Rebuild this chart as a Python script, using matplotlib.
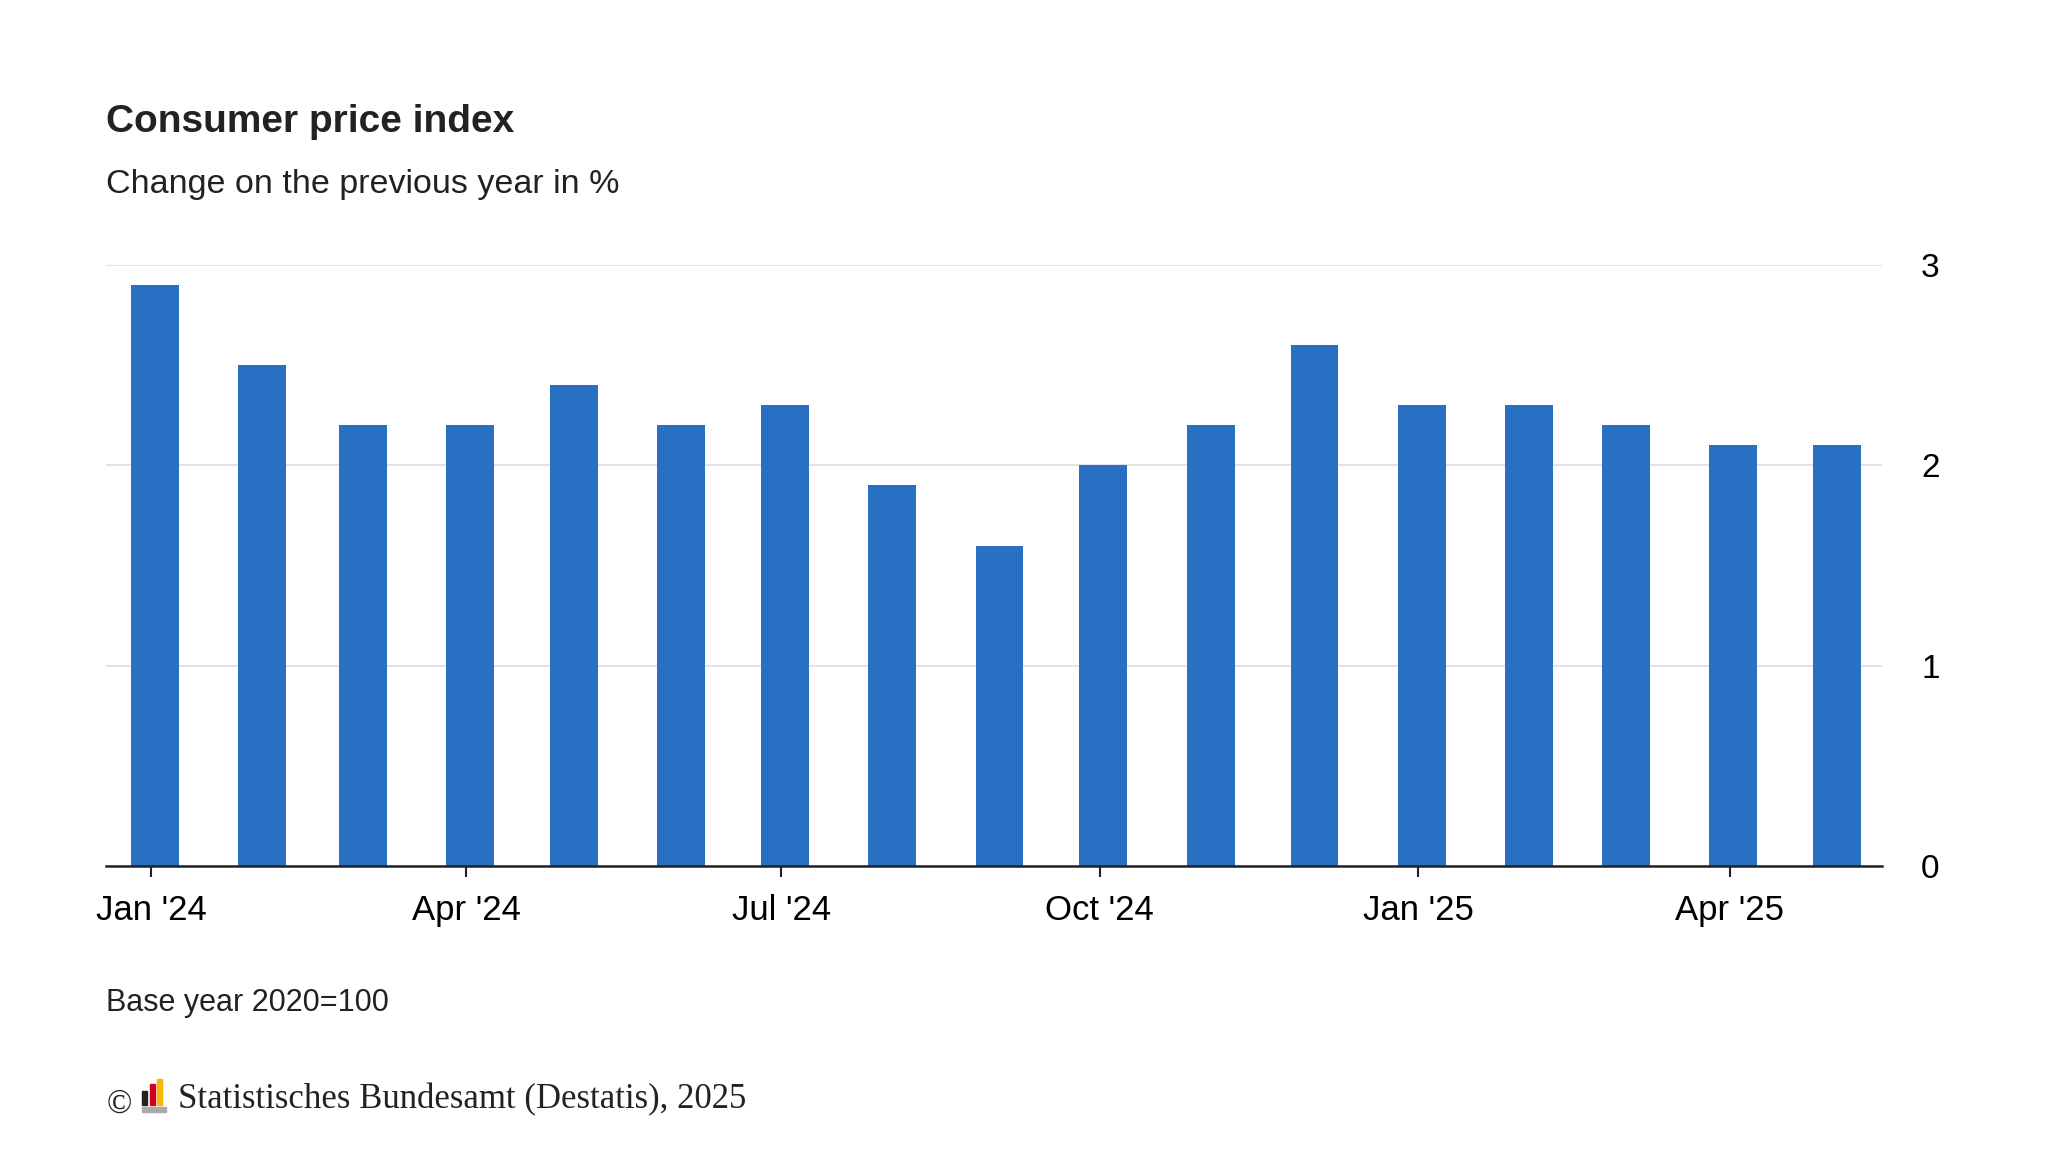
import matplotlib
matplotlib.use("Agg")
import matplotlib.pyplot as plt
from matplotlib.patches import Rectangle
import datetime as dt

plt.rcParams["font.family"] = "Liberation Sans"

months = ["2024-01","2024-02","2024-03","2024-04","2024-05","2024-06","2024-07","2024-08",
          "2024-09","2024-10","2024-11","2024-12","2025-01","2025-02","2025-03","2025-04","2025-05"]
values = [2.9,2.5,2.2,2.2,2.4,2.2,2.3,1.9,1.6,2.0,2.2,2.6,2.3,2.3,2.2,2.1,2.1]
tick_months = ["2024-01","2024-04","2024-07","2024-10","2025-01","2025-04"]
tick_labels = ["Jan '24","Apr '24","Jul '24","Oct '24","Jan '25","Apr '25"]

def d(s):
    y, m = s.split("-")
    return dt.date(int(y), int(m), 1)

fig = plt.figure(figsize=(20.48, 11.52), dpi=100)
ax = fig.add_axes([0.052, 0.248, 0.867, 0.522])
x = [d(m) + dt.timedelta(days=1) for m in months]
ax.bar(x, values, width=13.8, color="#2770c4", zorder=2)
ax.set_xlim(dt.date(2023, 12, 19), dt.date(2025, 5, 15))
ax.set_ylim(0, 3)
ax.yaxis.tick_right()
ax.set_yticks([0, 1, 2, 3])
ax.set_yticklabels(["0", "1", "2", "3"], fontsize=24)
ax.tick_params(axis="y", length=0, pad=28)
ax.grid(axis="y", color="#dddddd", linewidth=1.2, zorder=0)
ax.set_xticks([d(m) for m in tick_months])
ax.set_xticklabels(tick_labels, fontsize=25)
ax.tick_params(axis="x", length=8, width=1.5, color="#222222", pad=12)
for s in ["top", "right", "left"]:
    ax.spines[s].set_visible(False)
ax.spines["bottom"].set_linewidth(1.8)
ax.spines["bottom"].set_color("#222222")
ax.spines["bottom"].set_zorder(3)

fig.text(0.052, 0.894, "Consumer price index", fontsize=28, fontweight="bold", color="#222222", va="center")
fig.text(0.052, 0.840, "Change on the previous year in %", fontsize=24.5, color="#222222", va="center")
fig.text(0.052, 0.129, "Base year 2020=100", fontsize=22, color="#222222", va="center")
fig.text(0.052, 0.041, "©", fontsize=24, family="Liberation Serif", color="#222222", va="center")
fig.text(0.087, 0.045, "Statistisches Bundesamt (Destatis), 2025", fontsize=25,
         family="Liberation Serif", color="#222222", va="center")
lx, ly = 0.0695, 0.035
for i, (c, h) in enumerate([("#222222", 0.012), ("#d0021b", 0.018), ("#f5b800", 0.022)]):
    fig.add_artist(Rectangle((lx + i * 0.0035, ly + 0.006), 0.0025, h, color=c, transform=fig.transFigure))
fig.add_artist(Rectangle((lx, ly), 0.0115, 0.004, color="#aaaaaa", transform=fig.transFigure))
fig.savefig("out.png", dpi=100, facecolor="white")
